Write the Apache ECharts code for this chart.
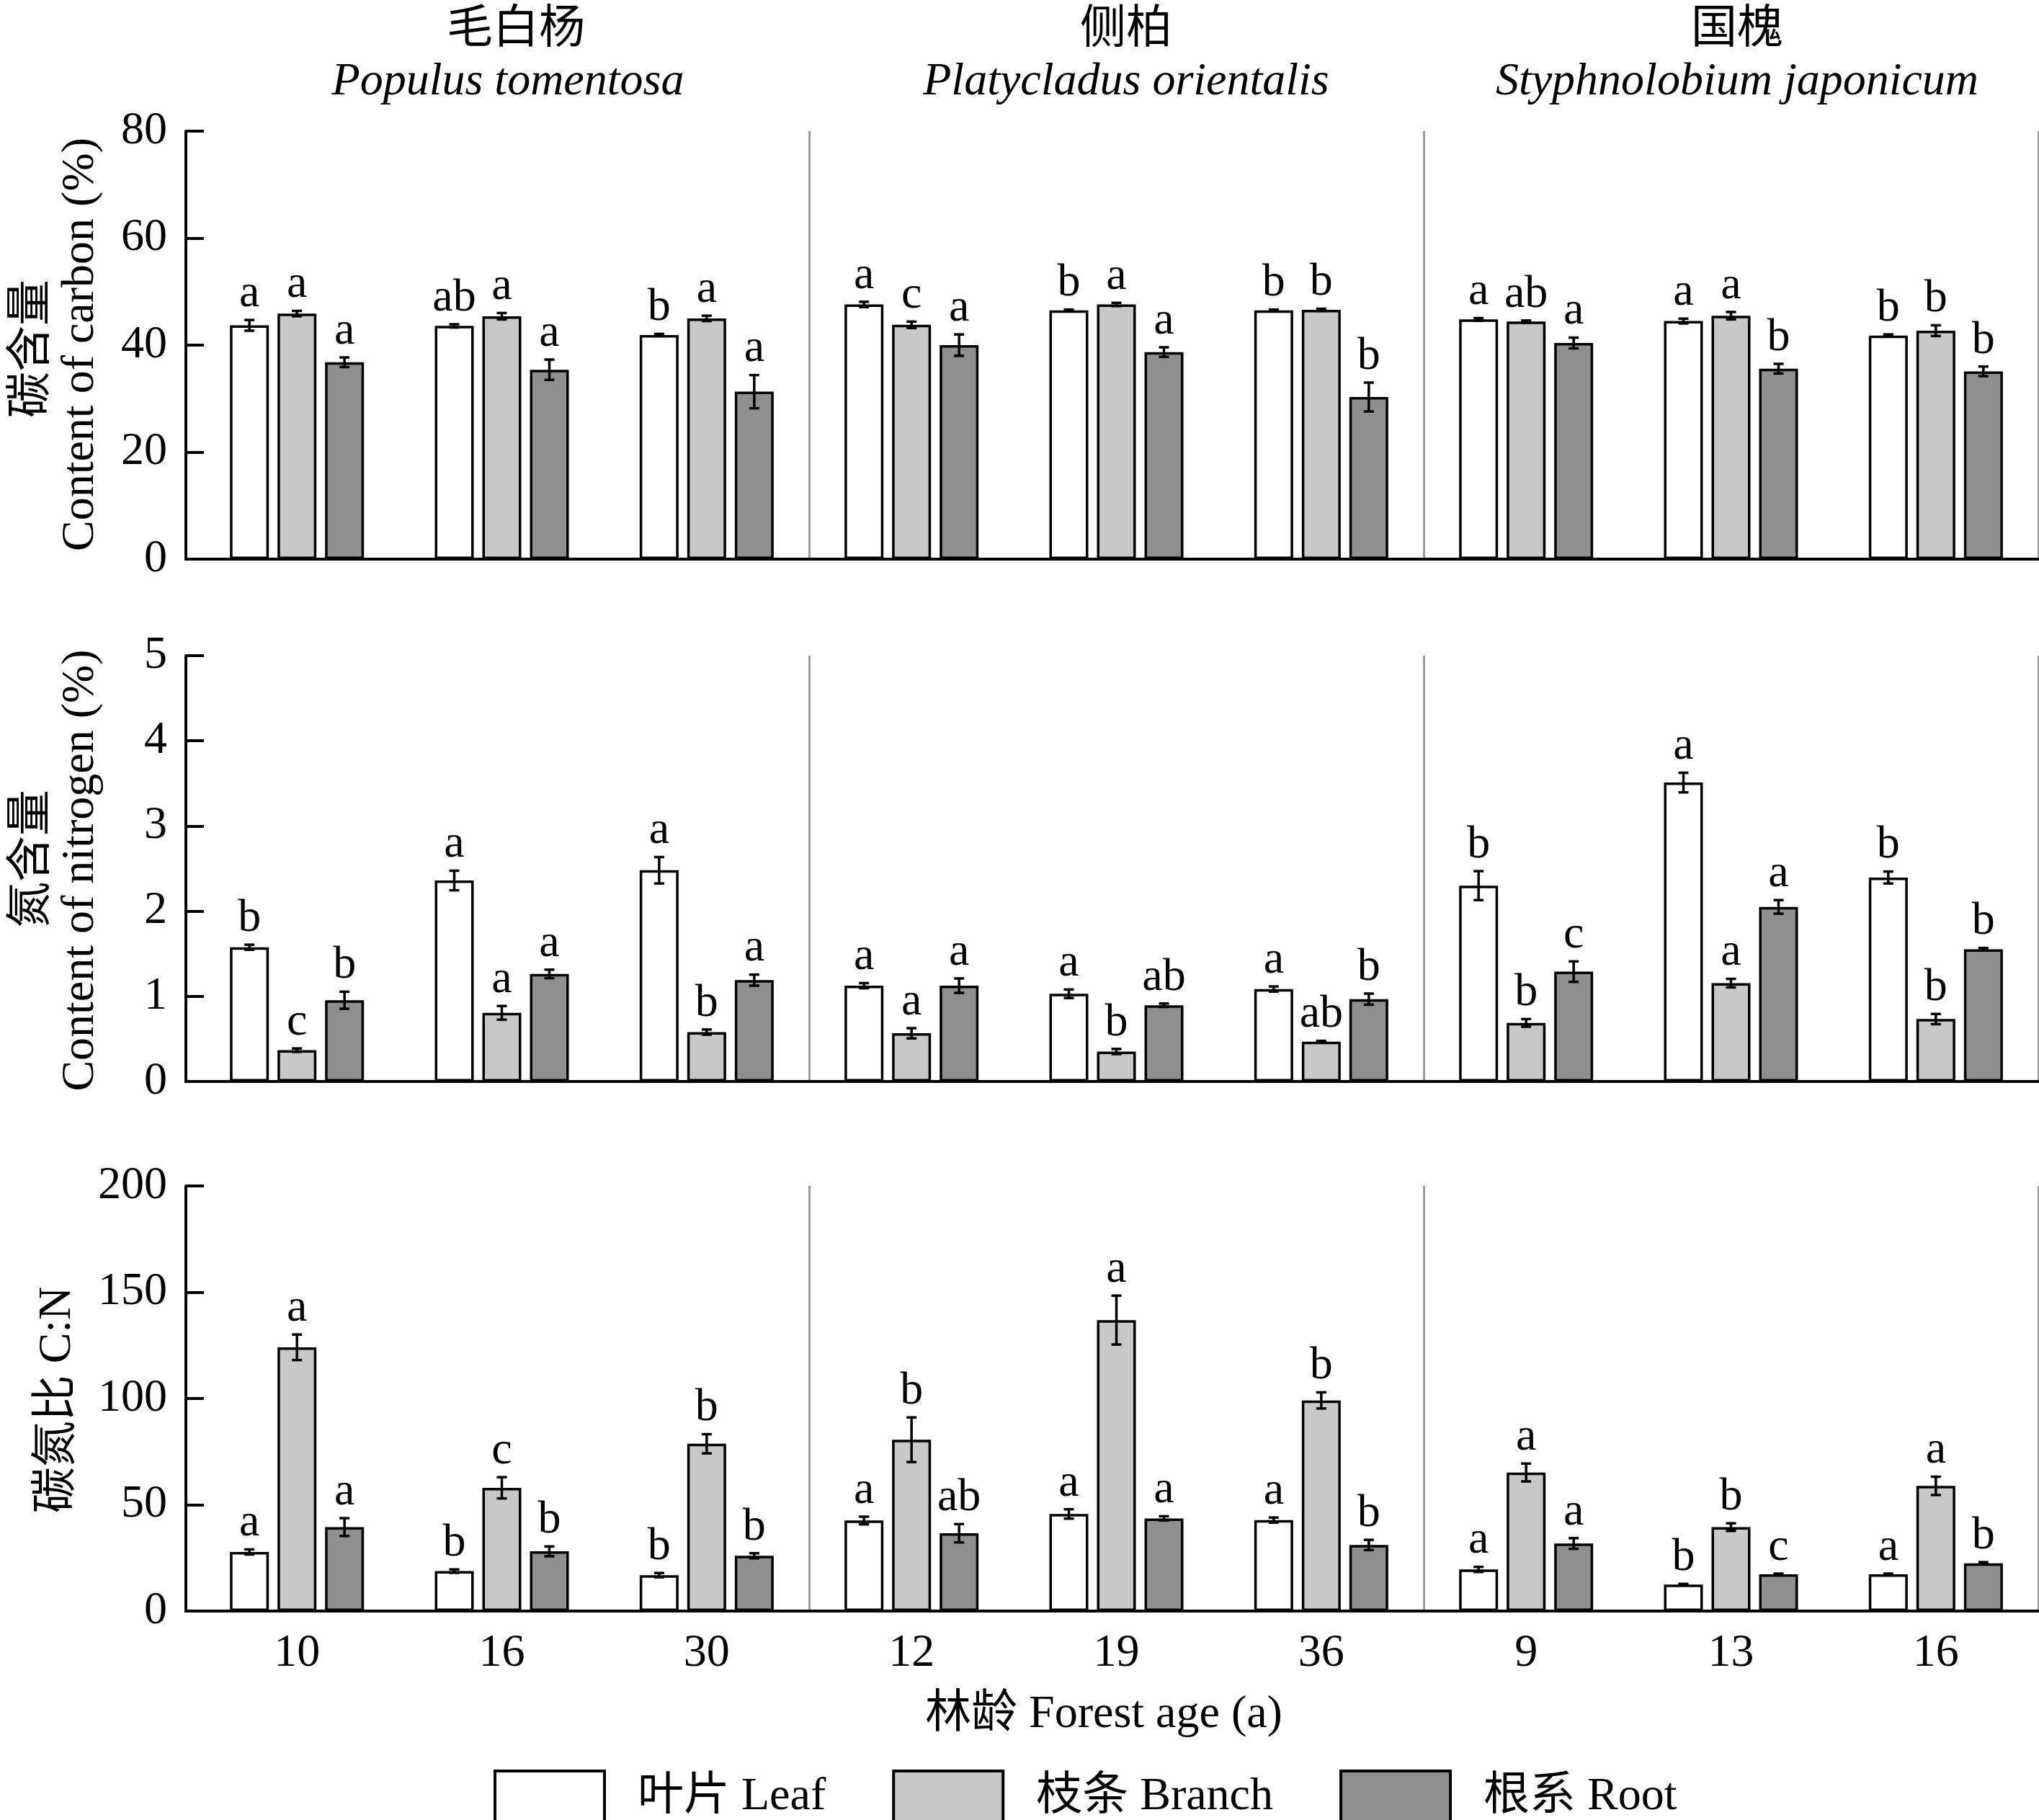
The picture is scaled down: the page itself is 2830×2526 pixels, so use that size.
<!DOCTYPE html>
<html>
<head>
<meta charset="utf-8">
<script src="https://cdn.jsdelivr.net/npm/echarts@6/dist/echarts.min.js"></script>
<style>
  html, body { margin: 0; padding: 0; background: #fff; }
  #main { width: 2830px; height: 2526px; }
</style>
</head>
<body>
<div id="main"></div>
<script>
// 林龄（类别）
var ages = ['10', '16', '30', '12', '19', '36', '9', '13', '16'];
var organNames = ['叶片 Leaf', '枝条 Branch', '根系 Root'];
var organColors = ['#ffffff', '#c8c8c8', '#8f8f8f'];

// 碳含量 (%)
var carbonLeaf = [43.7, 43.6, 41.9, 47.6, 46.5, 46.5, 44.8, 44.5, 41.8];
var carbonBranch = [45.9, 45.4, 45.0, 43.8, 47.6, 46.6, 44.4, 45.5, 42.7];
var carbonRoot = [36.8, 35.4, 31.3, 40.0, 38.7, 30.3, 40.4, 35.6, 35.1];
var carbonLeafSe = [1.0, 0.3, 0.2, 0.5, 0.15, 0.15, 0.25, 0.45, 0.2];
var carbonBranchSe = [0.5, 0.6, 0.5, 0.6, 0.3, 0.2, 0.2, 0.7, 1.0];
var carbonRootSe = [0.9, 1.9, 3.1, 2.0, 0.9, 2.7, 1.0, 0.9, 0.9];
var carbonLeafSig = ['a', 'ab', 'b', 'a', 'b', 'b', 'a', 'a', 'b'];
var carbonBranchSig = ['a', 'a', 'a', 'c', 'a', 'b', 'ab', 'a', 'b'];
var carbonRootSig = ['a', 'a', 'a', 'a', 'a', 'b', 'a', 'b', 'b'];

// 氮含量 (%)
var nitrogenLeaf = [1.576, 2.36, 2.48, 1.125, 1.03, 1.086, 2.30, 3.51, 2.395];
var nitrogenBranch = [0.368, 0.806, 0.58, 0.566, 0.352, 0.467, 0.688, 1.155, 0.733];
var nitrogenRoot = [0.954, 1.263, 1.19, 1.125, 0.895, 0.967, 1.29, 2.05, 1.553];
var nitrogenLeafSe = [0.03, 0.115, 0.155, 0.03, 0.05, 0.03, 0.17, 0.115, 0.07];
var nitrogenBranchSe = [0.02, 0.08, 0.03, 0.06, 0.03, 0.01, 0.045, 0.05, 0.06];
var nitrogenRootSe = [0.1, 0.05, 0.065, 0.085, 0.02, 0.065, 0.12, 0.08, 0.015];
var nitrogenLeafSig = ['b', 'a', 'a', 'a', 'a', 'a', 'b', 'a', 'b'];
var nitrogenBranchSig = ['c', 'a', 'b', 'a', 'b', 'ab', 'b', 'a', 'b'];
var nitrogenRootSig = ['b', 'a', 'a', 'a', 'ab', 'b', 'c', 'a', 'b'];

// 碳氮比 C:N
var cnLeaf = [27.8, 18.8, 16.9, 42.6, 45.7, 42.8, 19.6, 12.5, 17.3];
var cnBranch = [124.1, 58.0, 78.7, 80.6, 136.9, 99.1, 65.2, 39.5, 58.9];
var cnRoot = [39.5, 28.1, 26.0, 36.6, 43.6, 31.1, 31.8, 17.3, 22.5];
var cnLeafSe = [1.2, 0.8, 1.0, 1.8, 2.2, 1.2, 1.2, 0.3, 0.3];
var cnBranchSe = [6.0, 5.0, 4.5, 10.5, 11.5, 3.8, 4.2, 1.8, 4.3];
var cnRootSe = [4.2, 2.3, 1.2, 4.3, 1.0, 2.4, 2.5, 0.3, 0.5];
var cnLeafSig = ['a', 'b', 'b', 'a', 'a', 'a', 'a', 'b', 'a'];
var cnBranchSig = ['a', 'c', 'b', 'b', 'a', 'b', 'a', 'b', 'a'];
var cnRootSig = ['a', 'b', 'b', 'ab', 'a', 'b', 'a', 'c', 'b'];

// y轴刻度 [min, max, interval]
var carbonTicks = [0, 80, 20];
var nitrogenTicks = [0, 5, 1];
var cnTicks = [0, 200, 50];

var panels = [
  { means: [carbonLeaf, carbonBranch, carbonRoot], se: [carbonLeafSe, carbonBranchSe, carbonRootSe],
    sig: [carbonLeafSig, carbonBranchSig, carbonRootSig], ticks: carbonTicks },
  { means: [nitrogenLeaf, nitrogenBranch, nitrogenRoot], se: [nitrogenLeafSe, nitrogenBranchSe, nitrogenRootSe],
    sig: [nitrogenLeafSig, nitrogenBranchSig, nitrogenRootSig], ticks: nitrogenTicks },
  { means: [cnLeaf, cnBranch, cnRoot], se: [cnLeafSe, cnBranchSe, cnRootSe],
    sig: [cnLeafSig, cnBranchSig, cnRootSig], ticks: cnTicks }
];

var FONT = '"Liberation Serif", "Noto Sans CJK SC", serif';
var FS = 64;
var gridLeft = 270, yOffset = 12;
var gridTops = [182, 910, 1646];
var gridHeights = [594, 591, 590];
var barW = 54, barGapPx = 12;

var myChart = echarts.init(document.getElementById('main'));

var grids = [], xAxes = [], yAxes = [], series = [];

// 误差线 + 显著性字母
function errorRender(offset, se, sig) {
  return function (params, api) {
    var i = api.value(0);
    var m = api.value(1);
    var e = se[params.dataIndex];
    var c = api.coord([i, m]);
    var x = c[0] + offset;
    var yt = api.coord([i, m + e])[1];
    var yb = api.coord([i, m - e])[1];
    var ls = { stroke: '#000', lineWidth: 3.5 };
    return {
      type: 'group',
      children: [
        { type: 'line', shape: { x1: x, y1: yt, x2: x, y2: yb }, style: ls },
        { type: 'line', shape: { x1: x - 7, y1: yt, x2: x + 7, y2: yt }, style: ls },
        { type: 'line', shape: { x1: x - 7, y1: yb, x2: x + 7, y2: yb }, style: ls },
        { type: 'text', style: { text: sig[params.dataIndex], x: x, y: yt - 4, align: 'center',
            verticalAlign: 'bottom', fontSize: FS, fontFamily: FONT, fill: '#000' } }
      ]
    };
  };
}

panels.forEach(function (p, k) {
  grids.push({ left: gridLeft, right: 1, top: gridTops[k], height: gridHeights[k] });
  xAxes.push({
    type: 'category', gridIndex: k, data: ages,
    axisLine: { lineStyle: { color: '#000', width: 4 } },
    axisTick: { show: false },
    axisLabel: { show: k === 2, color: '#000', fontSize: FS, fontFamily: FONT, margin: 27 },
    splitLine: { show: true, interval: function (idx) { return idx === 3 || idx === 6; },
      lineStyle: { color: '#9a9a9a', width: 3 } }
  });
  yAxes.push({
    type: 'value', gridIndex: k, min: p.ticks[0], max: p.ticks[1], interval: p.ticks[2],
    offset: yOffset,
    axisLine: { show: true, lineStyle: { color: '#000', width: 4 } },
    axisTick: { show: true, inside: true, length: 25, lineStyle: { color: '#000', width: 4 } },
    axisLabel: { color: '#000', fontSize: FS, fontFamily: FONT, margin: 26 },
    splitLine: { show: false }
  });
  for (var j = 0; j < 3; j++) {
    series.push({
      name: organNames[j], type: 'bar', xAxisIndex: k, yAxisIndex: k,
      barWidth: barW, barGap: (barGapPx / barW * 100) + '%',
      itemStyle: { color: organColors[j], borderColor: '#000', borderWidth: 3.5 },
      data: p.means[j], z: 2
    });
  }
  for (var j2 = 0; j2 < 3; j2++) {
    var off = (j2 - 1) * (barW + barGapPx);
    series.push({
      type: 'custom', xAxisIndex: k, yAxisIndex: k, z: 5, clip: false,
      renderItem: errorRender(off, p.se[j2], p.sig[j2]),
      encode: { x: 0, y: 1 },
      data: p.means[j2].map(function (v, i) { return [i, v]; })
    });
  }
});

function txt(text, x, y, opts) {
  return { type: 'text', x: x, y: y, rotation: (opts && opts.rot) || 0,
    style: { text: text, fontSize: FS, fontFamily: FONT, fill: '#000', align: 'center', verticalAlign: 'middle',
      fontStyle: (opts && opts.italic) ? 'italic' : 'normal' } };
}

var graphics = [
  txt('毛白杨', 716, 42), txt('Populus tomentosa', 705, 114, { italic: true }),
  txt('侧柏', 1563, 42), txt('Platycladus orientalis', 1563, 114, { italic: true }),
  txt('国槐', 2411, 42), txt('Styphnolobium japonicum', 2411, 114, { italic: true }),
  txt('碳含量', 45, 484, { rot: Math.PI / 2 }),
  txt('Content of carbon (%)', 112, 478, { rot: Math.PI / 2 }),
  txt('氮含量', 45, 1192, { rot: Math.PI / 2 }),
  txt('Content of nitrogen (%)', 112, 1208, { rot: Math.PI / 2 }),
  txt('碳氮比 C:N', 80, 1943, { rot: Math.PI / 2 }),
  txt('林龄 Forest age (a)', 1532, 2380)
];
// 补齐x轴线左端（y轴有偏移）
gridTops.forEach(function (t, k) {
  var yb = t + gridHeights[k];
  graphics.push({ type: 'line', shape: { x1: gridLeft - yOffset - 2, y1: yb, x2: gridLeft, y2: yb },
    style: { stroke: '#000', lineWidth: 4 }, z: 10 });
});

var option = {
  backgroundColor: '#fff',
  animation: false,
  textStyle: { fontFamily: FONT },
  grid: grids,
  xAxis: xAxes,
  yAxis: yAxes,
  legend: {
    data: organNames, left: 680, top: 2451, orient: 'horizontal',
    itemWidth: 152, itemHeight: 72, itemGap: 92, icon: 'rect',
    itemStyle: { borderColor: '#000', borderWidth: 4 },
    textStyle: { color: '#000', fontSize: FS, fontFamily: FONT, padding: [0, 0, 0, 41] }
  },
  graphic: graphics,
  series: series
};
myChart.setOption(option);
</script>
</body>
</html>
